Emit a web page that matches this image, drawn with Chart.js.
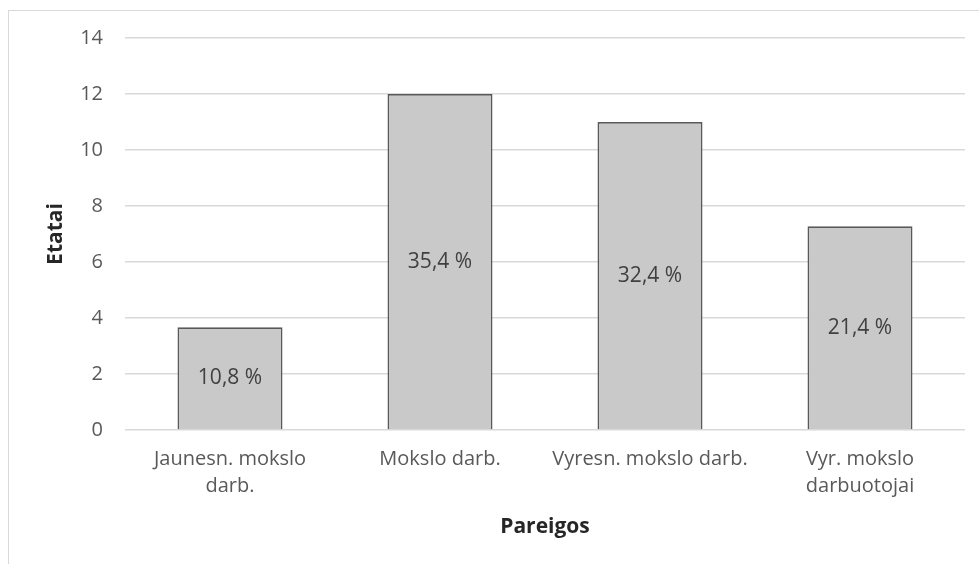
<!DOCTYPE html>
<html>
<head>
<meta charset="utf-8">
<script src="https://cdn.jsdelivr.net/npm/chart.js@4"></script>
<style>
  html, body { margin: 0; padding: 0; background: #fff; }
  #wrap { position: relative; width: 979px; height: 564px; overflow: hidden; }
  #frame { position: absolute; left: 8px; top: 10px; width: 1000px; height: 600px; border-left: 1px solid #d9d9d9; border-top: 1px solid #d9d9d9; }
  canvas { position: absolute; left: 0; top: 0; }
</style>
</head>
<body>
<div id="wrap">
  <div id="frame"></div>
  <canvas id="bars" width="979" height="564"></canvas>
</div>
<script>
/*--------------------DATA--------------------*/
let categories = [['Jaunesn. mokslo', 'darb.'], 'Mokslo darb.', 'Vyresn. mokslo darb.', ['Vyr. mokslo', 'darbuotojai']];
let etatai = [3.67, 12, 11, 7.28];
let pctLabels = ['10,8 %', '35,4 %', '32,4 %', '21,4 %'];
let yTicks = [0, 2, 4, 6, 8, 10, 12, 14];

let fontFamily = "'Open Sans', 'Liberation Sans', sans-serif";
let textColor = '#595959';

/*--------------------PLUGIN--------------------*/
let barLabels = {
    id: 'barLabels',
    afterDatasetsDraw(chart) {
        let ctx = chart.ctx;
        let meta = chart.getDatasetMeta(0);
        ctx.save();
        ctx.font = '21px ' + fontFamily;
        ctx.fillStyle = '#404040';
        ctx.textAlign = 'center';
        ctx.textBaseline = 'middle';
        meta.data.forEach((bar, i) => {
            let p = bar.getProps(['x', 'y', 'base'], true);
            ctx.fillText(pctLabels[i], p.x, (p.y + p.base) / 2);
        });
        ctx.restore();
    }
};

/*--------------------CHART--------------------*/
let barsCanvas = document.getElementById('bars');
let barsChart = new Chart(barsCanvas, {
    type: 'bar',
    data: {
        labels: categories,
        datasets: [
            {
                label: 'Etatai',
                data: etatai,
                backgroundColor: '#c9c9c9',
                borderColor: '#595959',
                borderWidth: 1.8,
                barPercentage: 0.5,
                categoryPercentage: 1
            }
        ]
    },
    options: {
        responsive: false,
        animation: false,
        layout: { padding: { left: 0, right: 14, top: 38, bottom: 0 } },
        plugins: {
            legend: { display: false },
            tooltip: { enabled: false }
        },
        scales: {
            x: {
                grid: { display: false, drawTicks: false },
                border: { display: false },
                ticks: {
                    color: textColor,
                    font: { family: fontFamily, size: 20, lineHeight: 1.35 },
                    padding: 16,
                    maxRotation: 0,
                    autoSkip: false
                },
                title: {
                    display: true,
                    text: 'Pareigos',
                    color: '#262626',
                    font: { family: fontFamily, size: 21, weight: 'bold' },
                    padding: { top: 0, bottom: 24 }
                },
                afterFit(scale) { scale.height = 134; }
            },
            y: {
                min: 0,
                max: 14,
                afterBuildTicks(scale) { scale.ticks = yTicks.map((v) => ({ value: v })); },
                grid: { color: '#d9d9d9', lineWidth: 1.5, drawTicks: false },
                border: { display: false },
                ticks: {
                    color: textColor,
                    font: { family: fontFamily, size: 20 },
                    padding: 22
                },
                title: {
                    display: true,
                    text: 'Etatai',
                    color: '#262626',
                    font: { family: fontFamily, size: 21, weight: 'bold' },
                    padding: { top: 43, bottom: 0 }
                },
                afterFit(scale) { scale.width = 125; }
            }
        }
    },
    plugins: [barLabels]
});
</script>
</body>
</html>
